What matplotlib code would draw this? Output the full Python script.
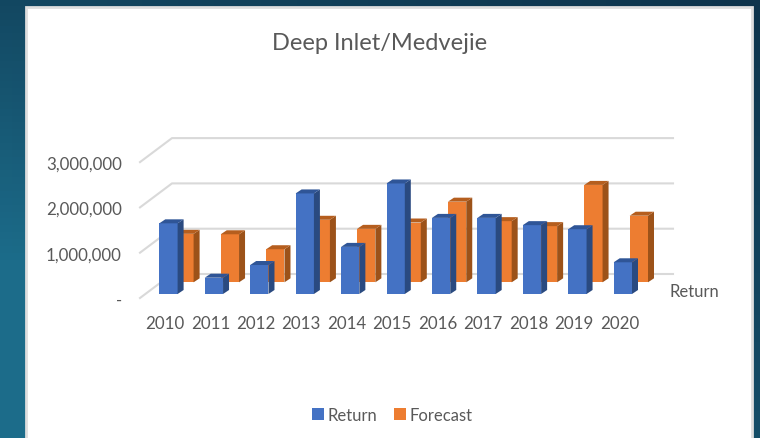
import matplotlib
matplotlib.use('Agg')
import matplotlib.pyplot as plt
import numpy as np
from matplotlib.patches import Rectangle
from matplotlib.ticker import FuncFormatter

years = [2010, 2011, 2012, 2013, 2014, 2015, 2016, 2017, 2018, 2019, 2020]
return_vals = [1560000, 360000, 640000, 2220000, 1040000, 2440000, 1680000, 1680000, 1520000, 1430000, 700000]
forecast_vals = [1070000, 1060000, 730000, 1380000, 1180000, 1320000, 1780000, 1350000, 1240000, 2150000, 1470000]
y_ticks = [0, 1000000, 2000000, 3000000]

W, H = 760, 439
GREY = '#595959'
plt.rcParams['font.family'] = ['Lato', 'DejaVu Sans']

fig = plt.figure(figsize=(W / 100, H / 100), dpi=100)


def px_axes(left, top, right, bottom, **kw):
    return fig.add_axes([left / W, 1 - bottom / H, (right - left) / W, (bottom - top) / H], **kw)


# background gradient behind the white card
bg = px_axes(0, 0, W, H)
bg.axis('off')
yy, xx = np.mgrid[0:1:64j, 0:1:64j]
mix = np.clip(0.45 * yy + 0.65 * (1 - xx) * yy + 0.35 * (1 - xx), 0, 1)[..., None]
dark = np.array([14, 52, 76]) / 255
light = np.array([28, 108, 138]) / 255
bg.imshow(dark + (light - dark) * mix, extent=[0, W, H, 0], origin='upper', aspect='auto')
bg.set_xlim(0, W)
bg.set_ylim(H, 0)
bg.add_patch(Rectangle((26, 8), 726, 440, fc='white', ec='#dedede', lw=2))

# plot area: front floor edge at the bottom, back wall top at the top
PX_PER_UNIT = 45.44
PX_PER_VAL = 45.3 / 1e6
left_px, right_px, top_px, floor_px = 140, 673, 139, 299
x0_px = 165

ax = px_axes(left_px, top_px, right_px, floor_px)
ax.patch.set_alpha(0)
ax.set_xlim((left_px - x0_px) / PX_PER_UNIT, (right_px - x0_px) / PX_PER_UNIT)
ax.set_ylim(0, (floor_px - top_px) / PX_PER_VAL)
for s in ax.spines.values():
    s.set_visible(False)


def dx(px):
    return px / PX_PER_UNIT


def dy(px):
    return px / PX_PER_VAL


# gridlines: slanted side wall then back wall
wall_x = dx(32)
wall_y = dy(24)
x_left = ax.get_xlim()[0]
x_right = ax.get_xlim()[1]
for v in y_ticks:
    ax.plot([x_left, x_left + wall_x, x_right], [v, v + wall_y, v + wall_y],
            color='#d9d9d9', lw=1.5, zorder=1, clip_on=False)


def draw_bars(values, shift_px, depth_px, front, side, top, z, label):
    xs = np.arange(len(values)) - dx(5.7) + dx(shift_px)
    width = dx(18.3)
    base = dy(depth_px)
    bars = ax.bar(xs, values, width=width, bottom=base, align='edge', color=front, zorder=z, label=label)
    ox, oy = dx(6), dy(4)
    for x, v in zip(xs, values):
        t = base + v
        ax.fill([x + width, x + width + ox, x + width + ox, x + width],
                [base, base + oy, t + oy, t], color=side, lw=0, zorder=z)
        ax.fill([x, x + ox, x + width + ox, x + width],
                [t, t + oy, t + oy, t], color=top, lw=0, zorder=z)
    return bars


draw_bars(forecast_vals, 16, 15.7, '#ED7D31', '#9C5219', '#B55E1E', 2, 'Forecast')
draw_bars(return_vals, 0, 4, '#4472C4', '#2A4A80', '#2F5597', 3, 'Return')

ax.set_xticks(range(len(years)), [str(y) for y in years])
ax.set_yticks(y_ticks)
ax.yaxis.set_major_formatter(FuncFormatter(lambda v, _: '-' if v == 0 else f'{int(v):,}'))
ax.tick_params(axis='both', length=0, labelsize=12.2, labelcolor=GREY)
ax.tick_params(axis='x', pad=12)
ax.tick_params(axis='y', pad=13)

fig.text(380 / W, 1 - 43 / H, 'Deep Inlet/Medvejie', fontsize=17, color=GREY, ha='center', va='center')
fig.text(694 / W, 1 - 292 / H, 'Return', fontsize=12, color=GREY, ha='center', va='center')

handles, labels = ax.get_legend_handles_labels()
order = [labels.index('Return'), labels.index('Forecast')]
fig.legend([handles[i] for i in order], [labels[i] for i in order], loc='center',
           bbox_to_anchor=(392.5 / W, 1 - 416 / H), ncol=2, frameon=False, fontsize=12,
           labelcolor=GREY, handlelength=0.72, handleheight=0.72, handletextpad=0.2, columnspacing=1.0)

fig.savefig('out.png', dpi=100)
